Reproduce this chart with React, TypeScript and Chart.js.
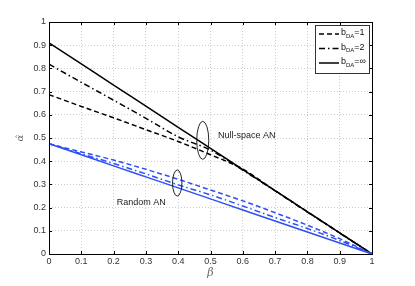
import React, { useEffect, useRef } from "react";
import { Chart, registerables } from "chart.js";

Chart.register(...registerables);

const betas = [0, 0.1, 0.2, 0.3, 0.4, 0.5, 0.6, 0.7, 0.8, 0.9, 1];
const nullSpaceB1 = [0.687, 0.636, 0.587, 0.536, 0.485, 0.428, 0.366, 0.273, 0.182, 0.091, 0];
const nullSpaceB2 = [0.818, 0.74, 0.663, 0.585, 0.505, 0.448, 0.362, 0.272, 0.181, 0.09, 0];
const nullSpaceInf = [0.91, 0.819, 0.728, 0.637, 0.546, 0.455, 0.364, 0.273, 0.182, 0.091, 0];
const randomB1 = [0.475, 0.44, 0.405, 0.365, 0.322, 0.276, 0.229, 0.178, 0.124, 0.066, 0];
const randomB2 = [0.475, 0.432, 0.39, 0.345, 0.298, 0.255, 0.207, 0.157, 0.11, 0.058, 0];
const randomInf = [0.475, 0.4275, 0.38, 0.3325, 0.285, 0.2375, 0.19, 0.1425, 0.095, 0.0475, 0];
const xTicks = [0, 0.1, 0.2, 0.3, 0.4, 0.5, 0.6, 0.7, 0.8, 0.9, 1];
const xTickLabels = ["0", "0.1", "0.2", "0.3", "0.4", "0.5", "0.6", "0.7", "0.8", "0.9", "1"];
const yTicks = [0, 0.1, 0.2, 0.3, 0.4, 0.5, 0.6, 0.7, 0.8, 0.9, 1];
const yTickLabels = ["0", "0.1", "0.2", "0.3", "0.4", "0.5", "0.6", "0.7", "0.8", "0.9", "1"];
const legendValues = ["1", "2", "\u221e"];
const annotationTexts = [
  { text: "Null-space AN", beta: 0.523, value: 0.509 },
  { text: "Random AN", beta: 0.21, value: 0.22 },
];
const ellipses = [
  { beta: 0.476, value: 0.49, rx: 6, ry: 19 },
  { beta: 0.397, value: 0.306, rx: 4.7, ry: 13 },
];

const BLACK = "#000000";
const BLUE = "#2e4ff5";
const DASH = [5, 3];
const DASHDOT = [6, 3, 1.5, 3];
const FONT = "'Liberation Sans', Arial, sans-serif";

const toPts = (ys: number[]) => betas.map((b, i) => ({ x: b, y: ys[i] }));

const overlayPlugin = {
  id: "overlay",
  afterDraw(chart: any) {
    const ctx = chart.ctx as CanvasRenderingContext2D;
    const { left, right, top, bottom } = chart.chartArea;
    const xs = chart.scales.x;
    const ys = chart.scales.y;
    ctx.save();
    ctx.strokeStyle = "#000";
    ctx.lineWidth = 1;
    ctx.beginPath();
    xTicks.forEach((t) => {
      const px = Math.round(xs.getPixelForValue(t)) + 0.5;
      ctx.moveTo(px, bottom);
      ctx.lineTo(px, bottom - 3);
      ctx.moveTo(px, top);
      ctx.lineTo(px, top + 3);
    });
    yTicks.forEach((t) => {
      const py = Math.round(ys.getPixelForValue(t)) + 0.5;
      ctx.moveTo(left, py);
      ctx.lineTo(left + 3, py);
      ctx.moveTo(right, py);
      ctx.lineTo(right - 3, py);
    });
    ctx.stroke();
    ctx.lineWidth = 1;
    ctx.strokeStyle = "#000";
    ctx.strokeRect(Math.round(left) + 0.5, Math.round(top) + 0.5, Math.round(right - left), Math.round(bottom - top));

    ctx.lineWidth = 0.9;
    ctx.strokeStyle = "#111";
    ellipses.forEach((e) => {
      ctx.beginPath();
      ctx.ellipse(xs.getPixelForValue(e.beta), ys.getPixelForValue(e.value), e.rx, e.ry, 0, 0, Math.PI * 2);
      ctx.stroke();
    });

    ctx.fillStyle = "#222";
    ctx.font = `9px ${FONT}`;
    ctx.textBaseline = "middle";
    ctx.textAlign = "left";
    annotationTexts.forEach((a) => {
      ctx.fillText(a.text, xs.getPixelForValue(a.beta), ys.getPixelForValue(a.value));
    });

    ctx.fillStyle = "#666";
    ctx.font = `italic 11px 'DejaVu Serif', serif`;
    ctx.textAlign = "center";
    ctx.fillText("\u03b2", (left + right) / 2, bottom + 19);
    ctx.save();
    ctx.translate(left - 29, (top + bottom) / 2);
    ctx.rotate(-Math.PI / 2);
    ctx.font = `italic 10px 'DejaVu Serif', serif`;
    ctx.fillText("\u03b1\u0302", 0, 0);
    ctx.restore();

    const lx = right - 57;
    const ly = top + 3;
    const lw = 54;
    const lh = 48;
    ctx.fillStyle = "#fff";
    ctx.fillRect(lx, ly, lw, lh);
    ctx.strokeStyle = "#333";
    ctx.lineWidth = 1;
    ctx.strokeRect(Math.round(lx) + 0.5, Math.round(ly) + 0.5, lw, lh);
    const dashes = [DASH, DASHDOT, []];
    legendValues.forEach((v, i) => {
      const yy = ly + 9 + i * 14.5;
      ctx.save();
      ctx.strokeStyle = "#000";
      ctx.lineWidth = 1.5;
      ctx.setLineDash(dashes[i]);
      ctx.beginPath();
      ctx.moveTo(lx + 4, yy);
      ctx.lineTo(lx + 24, yy);
      ctx.stroke();
      ctx.restore();
      ctx.fillStyle = "#111";
      ctx.textAlign = "left";
      ctx.textBaseline = "middle";
      ctx.font = `9px ${FONT}`;
      let tx = lx + 26;
      ctx.fillText("b", tx, yy - 1);
      tx += ctx.measureText("b").width;
      ctx.font = `6px ${FONT}`;
      ctx.fillText("DA", tx, yy + 2);
      tx += ctx.measureText("DA").width;
      ctx.font = `9px ${FONT}`;
      ctx.fillText("=" + v, tx, yy - 1);
    });
    ctx.restore();
  },
};

export default function App() {
  const ref = useRef<HTMLCanvasElement>(null);
  useEffect(() => {
    if (!ref.current) return;
    const mk = (label: string, data: number[], color: string, dash: number[]) => ({
      label,
      data: toPts(data),
      borderColor: color,
      backgroundColor: color,
      borderWidth: 1.5,
      borderDash: dash,
      pointRadius: 0,
      fill: false,
      cubicInterpolationMode: "monotone" as const,
    });
    const chart = new Chart(ref.current, {
      type: "line",
      data: {
        datasets: [
          mk("Random b=1", randomB1, BLUE, DASH),
          mk("Random b=2", randomB2, BLUE, DASHDOT),
          mk("Random b=inf", randomInf, BLUE, []),
          mk("Null b=1", nullSpaceB1, BLACK, DASH),
          mk("Null b=2", nullSpaceB2, BLACK, DASHDOT),
          mk("Null b=inf", nullSpaceInf, BLACK, []),
        ],
      },
      options: {
        animation: false,
        responsive: false,
        maintainAspectRatio: false,
        layout: { padding: { left: 0, top: 22, right: 43, bottom: 0 } },
        plugins: { legend: { display: false }, tooltip: { enabled: false } },
        scales: {
          x: {
            type: "linear",
            min: 0,
            max: 1,
            afterBuildTicks: (s: any) => {
              s.ticks = xTicks.map((v) => ({ value: v }));
            },
            afterFit: (s: any) => {
              s.height = 32;
            },
            ticks: {
              callback: (_v: any, i: number) => xTickLabels[i],
              color: "#333",
              font: { size: 9, family: FONT },
              padding: 2,
              maxRotation: 0,
              autoSkip: false,
            },
            grid: { color: "#cccccc", drawTicks: false, lineWidth: 1 },
            border: { display: false, dash: [1, 2] },
          },
          y: {
            type: "linear",
            min: 0,
            max: 1,
            afterBuildTicks: (s: any) => {
              s.ticks = yTicks.map((v) => ({ value: v }));
            },
            afterFit: (s: any) => {
              s.width = 49;
            },
            ticks: {
              callback: (_v: any, i: number) => yTickLabels[i],
              color: "#333",
              font: { size: 9, family: FONT },
              padding: 3,
              autoSkip: false,
            },
            grid: { color: "#cccccc", drawTicks: false, lineWidth: 1 },
            border: { display: false, dash: [1, 2] },
          },
        },
      },
      plugins: [overlayPlugin],
    });
    return () => chart.destroy();
  }, []);
  return (
    <div style={{ position: "fixed", left: 0, top: 0, width: 415, height: 286, background: "#fff" }}>
      <canvas ref={ref} width={415} height={286} style={{ width: 415, height: 286 }} />
    </div>
  );
}
